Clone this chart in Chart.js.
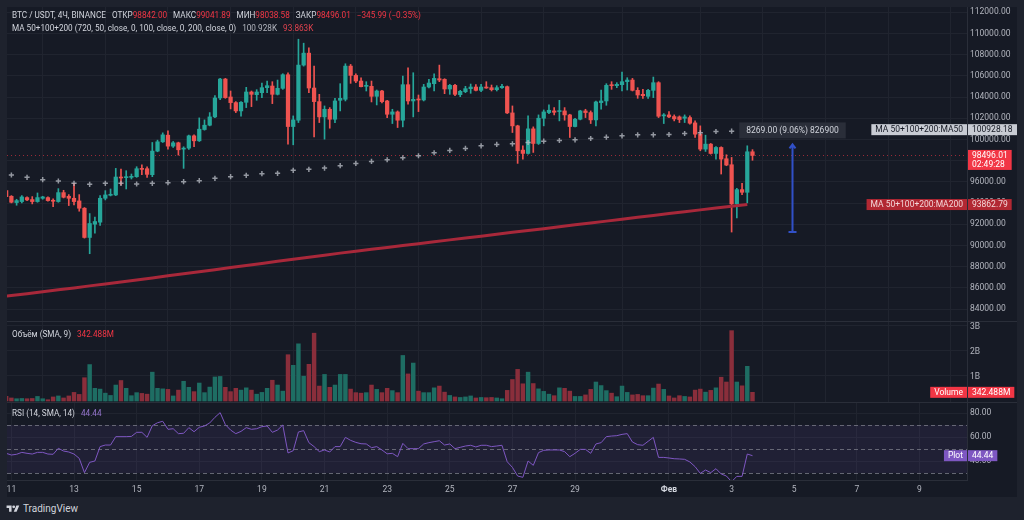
<!DOCTYPE html>
<html lang="ru">
<head>
<meta charset="utf-8">
<title>BTC / USDT, 4Ч, BINANCE</title>
<script src="https://cdn.jsdelivr.net/npm/chart.js@4.4.1/dist/chart.umd.min.js"></script>
<style>
  html, body { margin: 0; padding: 0; }
  body { position: relative; width: 1024px; height: 520px; overflow: hidden; background: #1e222d;
         font-family: Roboto, "Liberation Sans", sans-serif; font-size: 8.5px; color: #d1d4dc; }
  #chart { position: absolute; left: 7px; top: 7px; width: 1010px; height: 490px; background: #161a25; }
  .pane { position: absolute; left: 0; width: 1010px; }
  #pricePane { top: 0; height: 315px; }
  #volPane { top: 315px; height: 80px; }
  #rsiPane { top: 395px; height: 95px; }
  .sep { position: absolute; left: 0; width: 1010px; height: 1px; background: #2a2e39; }
  .legend { position: absolute; left: 5px; display: flex; white-space: pre; font-size: 8.2px; line-height: 11px; z-index: 2; }
  .legend .g { margin-left: 6px; }
  .red { color: #f23645; }
  .ma200 { color: #e0434f; }
  .grey { color: #b2b5be; }
  .purple { color: #9575cd; }
  #brand { position: absolute; left: 6px; top: 503px; display: flex; align-items: center; gap: 3px;
           font-size: 10px; color: #d1d4dc; }
</style>
</head>
<body>
<div id="chart">
  <div class="pane" id="pricePane"><canvas id="price"></canvas></div>
  <div class="pane" id="volPane"><canvas id="volume"></canvas></div>
  <div class="pane" id="rsiPane"><canvas id="rsi"></canvas></div>
  <div class="sep" style="top:314px"></div>
  <div class="sep" style="top:395px"></div>

  <div class="legend" style="top:3px"><span>BTC / USDT, 4Ч, BINANCE</span><span class="g">ОТКР<span class="red" id="lgO"></span></span><span class="g">МАКС<span class="red" id="lgH"></span></span><span class="g">МИН<span class="red" id="lgL"></span></span><span class="g">ЗАКР<span class="red" id="lgC"></span></span><span class="g red" id="lgChg"></span></div>
  <div class="legend" style="top:15.5px"><span>MA 50+100+200 (720, 50, close, 0, 100, close, 0, 200, close, 0)</span><span class="g grey" id="lgMa50"></span><span class="g ma200" id="lgMa200"></span></div>
  <div class="legend" style="top:321.5px"><span>Объём (SMA, 9)</span><span class="g red" id="lgVol"></span></div>
  <div class="legend" style="top:401px"><span>RSI (14, SMA, 14)</span><span class="g purple" id="lgRsi"></span></div>
</div>
<div id="brand">
  <svg width="14" height="10" viewBox="0 0 36 28"><path d="M14 22H7V11H0V4h14v18zM28 22h-8l7.5-18h8L28 22z" fill="#d1d4dc"/><circle cx="20" cy="8" r="4" fill="#d1d4dc"/></svg>
  <span>TradingView</span>
</div>

<script>
// 4h candles, index 0 = 11 Jan 00:00, first candle is 10 Jan 20:00
const FIRST_IDX = -1;
const open = [
  95177, 94644, 94049, 94143, 94519, 94331, 94143, 94456, 94519, 94268, 94143, 94989,
  94644, 94456, 94205, 93516, 90758, 92012, 92200, 94456, 94738, 94769, 96461, 96399,
  96430, 96493, 97276, 97244, 96681, 98905, 99782, 100408, 99374, 99688, 99093, 99187,
  100346, 99876, 100941, 101348, 102132, 103917, 105703, 104011, 103479, 102696, 103510, 104482,
  104231, 104419, 104889, 105045, 104262, 104826, 106111, 101223, 101818, 107019, 108147, 104857,
  103573, 102132, 102852, 101912, 103698, 103792, 106925, 106048, 105515, 105014, 105014, 104074,
  104576, 103636, 102382, 102602, 101818, 105171, 103636, 103792, 103730, 104951, 105265, 105735,
  105672, 104763, 105108, 104231, 104513, 104795, 104951, 104638, 104951, 104889, 104701, 104889,
  104983, 102508, 101286, 98999, 98685, 101004, 99625, 102006, 102539, 102696, 102633, 102696,
  102320, 101223, 101912, 102696, 102539, 101850, 103479, 103636, 105171, 105077, 105171, 105453,
  105609, 104638, 104262, 104074, 104638, 105359, 102226, 102320, 102163, 102132, 102006, 102069,
  101568, 100502, 99093, 99562, 98685, 99249, 98184, 97620, 93923, 95270, 95020, 98842
];
const high = [
  95270, 94707, 94362, 94707, 94582, 94613, 94957, 94644, 94582, 94393, 95364, 95208,
  94801, 95866, 94801, 93579, 93015, 92670, 94707, 95177, 95333, 97276, 97213, 97057,
  96743, 97432, 97620, 97432, 99719, 99939, 100628, 100816, 99813, 99750, 99312, 100408,
  100440, 102038, 101850, 102539, 104137, 105766, 105766, 104576, 103573, 103573, 104920, 104576,
  104701, 105327, 105515, 105453, 105609, 106205, 106299, 102226, 109460, 109087, 108648, 106925,
  104262, 103166, 103009, 103886, 105265, 107145, 107082, 106205, 105829, 105453, 105515, 104670,
  104638, 103698, 102852, 102696, 105985, 106769, 106299, 104199, 105202, 105672, 106205, 107019,
  105735, 105202, 105202, 104638, 105014, 105233, 105171, 105202, 105453, 105139, 105077, 105202,
  105045, 103166, 101348, 99406, 102226, 101192, 102320, 102790, 103260, 103009, 103698, 103009,
  102382, 102006, 102758, 102852, 102696, 103636, 104670, 105265, 105453, 105359, 106361, 105829,
  105766, 104889, 104732, 104732, 105891, 105453, 102445, 102633, 102320, 102226, 102320, 102226,
  101756, 101286, 100408, 99625, 99343, 99312, 98560, 98310, 95396, 95866, 99406, 99041.89
];
const low = [
  94550, 94017, 93798, 94017, 94237, 93923, 94080, 94362, 94174, 93673, 94080, 94487,
  93767, 93829, 93234, 90696, 89224, 91166, 91887, 94299, 94676, 94707, 95709, 95333,
  96273, 96430, 96681, 96430, 96493, 98842, 99719, 99093, 99249, 98529, 97276, 99061,
  99312, 99813, 100878, 101286, 102069, 103761, 103886, 102884, 102539, 102194, 103009, 103103,
  103698, 103949, 104419, 103385, 104199, 104732, 99562, 99500, 101599, 106925, 104419, 100252,
  101599, 100032, 101066, 101599, 102696, 103636, 105296, 105359, 104951, 104576, 103542, 103260,
  103448, 102069, 101505, 101129, 101192, 103322, 102132, 102633, 103636, 104857, 104576, 105453,
  104325, 104262, 104137, 104043, 104419, 104356, 104576, 104513, 104826, 104576, 104576, 104826,
  102445, 100659, 97746, 98153, 98623, 98780, 99531, 101286, 102445, 102320, 101756, 101818,
  100189, 101192, 101850, 102069, 101505, 101286, 102852, 103228, 104732, 104889, 104576, 104670,
  104576, 103886, 103886, 103886, 103949, 102069, 101505, 102069, 101756, 101599, 101599, 101442,
  100189, 98936, 98874, 98623, 98153, 96743, 97526, 91269, 92607, 94801, 94017, 98038.58
];
const close = [
  94613, 94080, 94237, 94582, 94299, 94143, 94519, 94582, 94237, 94174, 94989, 94550,
  94456, 94143, 93516, 90758, 92075, 92263, 94456, 94769, 94832, 96461, 96367, 96493,
  96493, 97244, 97182, 96712, 98905, 99782, 100440, 99374, 99688, 99030, 99187, 100346,
  99876, 100972, 101348, 102132, 103917, 105703, 103949, 103479, 102696, 103510, 104482, 104262,
  104482, 104889, 105077, 104262, 104826, 106111, 101223, 101850, 107019, 108147, 104857, 103573,
  102132, 102852, 101912, 103636, 103886, 106925, 106048, 105515, 104983, 105108, 104074, 104576,
  103573, 102382, 102602, 101818, 105171, 103636, 103792, 103730, 104951, 105327, 105766, 105609,
  104763, 105108, 104262, 104544, 104795, 104951, 104638, 104951, 104857, 104701, 104889, 105014,
  102508, 101286, 98936, 98685, 101004, 99625, 102006, 102602, 102758, 102570, 102696, 102320,
  101223, 101912, 102696, 102539, 101850, 103542, 103636, 105108, 105077, 105202, 105453, 105609,
  104638, 104199, 104137, 104638, 105359, 102194, 102320, 102132, 101944, 101881, 102132, 101536,
  100502, 99093, 99562, 98685, 99249, 98153, 97589, 93923, 95270, 95020, 98842, 98496.01
];
// volume in billions
const volume = [
  0.18, 0.12, 0.09, 0.10, 0.09, 0.10, 0.18, 0.09, 0.05, 0.16, 0.20, 0.12,
  0.20, 0.34, 0.26, 0.92, 1.44, 0.50, 0.47, 0.31, 0.22, 0.63, 0.81, 0.50,
  0.21, 0.33, 0.30, 0.27, 1.14, 0.50, 0.48, 0.46, 0.20, 0.43, 0.78, 0.54,
  0.37, 0.71, 0.33, 0.55, 0.95, 0.97, 0.54, 0.37, 0.50, 0.43, 0.52, 0.43,
  0.27, 0.34, 0.50, 0.82, 0.63, 0.39, 1.83, 1.41, 2.26, 0.98, 1.45, 2.68,
  0.59, 1.05, 0.54, 0.63, 1.05, 1.05, 0.47, 0.33, 0.31, 0.33, 0.63, 0.46,
  0.33, 0.50, 0.41, 0.33, 1.80, 1.07, 1.50, 0.39, 0.33, 0.33, 0.52, 0.59,
  0.35, 0.22, 0.16, 0.14, 0.16, 0.20, 0.12, 0.14, 0.13, 0.14, 0.12, 0.09,
  0.42, 0.85, 1.25, 0.68, 1.14, 0.69, 0.48, 0.38, 0.27, 0.21, 0.52, 0.50,
  0.39, 0.18, 0.18, 0.24, 0.46, 0.75, 0.61, 0.41, 0.31, 0.17, 0.59, 0.34,
  0.24, 0.26, 0.21, 0.21, 0.51, 0.67, 0.46, 0.20, 0.12, 0.21, 0.18, 0.16,
  0.43, 0.47, 0.35, 0.42, 0.52, 0.94, 0.75, 2.78, 0.75, 0.60, 1.37, 0.342488
];
const rsi = [
  46.4, 45.0, 45.6, 47.2, 46.4, 45.8, 47.2, 47.2, 45.8, 45.6, 50.6, 48.3,
  47.5, 45.8, 42.2, 30.3, 38.9, 40.0, 52.0, 53.3, 53.3, 60.3, 60.3, 60.3,
  60.5, 63.9, 63.9, 59.7, 69.4, 71.9, 73.1, 66.4, 66.9, 62.8, 63.1, 67.8,
  64.4, 68.1, 69.2, 71.7, 76.4, 80.3, 70.3, 65.8, 62.8, 64.7, 67.8, 66.4,
  66.9, 68.6, 69.2, 63.9, 65.8, 70.0, 46.7, 48.6, 64.2, 65.3, 55.3, 52.0,
  47.8, 49.2, 47.5, 52.0, 52.0, 59.7, 57.2, 55.5, 54.4, 54.2, 51.1, 52.0,
  49.2, 46.0, 46.4, 43.6, 54.7, 50.3, 50.3, 50.3, 54.2, 55.3, 56.1, 56.9,
  53.3, 54.2, 50.3, 51.4, 52.5, 53.1, 51.7, 53.1, 53.1, 52.0, 52.5, 53.1,
  39.4, 34.7, 27.5, 26.4, 40.0, 36.4, 47.0, 48.9, 49.2, 49.2, 49.2, 47.8,
  43.6, 46.4, 49.7, 49.7, 46.4, 54.2, 55.3, 60.3, 60.8, 61.1, 62.2, 62.8,
  55.8, 53.6, 53.1, 56.4, 59.7, 43.0, 43.0, 42.5, 41.9, 41.7, 41.4, 39.2,
  35.3, 29.7, 32.5, 30.3, 33.6, 29.2, 27.5, 22.8, 27.2, 27.2, 45.8, 44.44
];

// MA is computed on 12h bars: one point every 3 candles, first at index -3
const MA_FIRST_IDX = -3;
const ma50 = [
  96870, 96649, 96430, 96211, 96085, 95866, 95772, 95866, 95866, 95803, 95866,
  95928, 96023, 96117, 96336, 96493, 96618, 96774, 96806, 97088, 97182,
  97307, 97526, 97746, 97933, 98090, 98278, 98466, 98748, 98968, 99155,
  99406, 99531, 99594, 99719, 99845, 99907, 99970, 100095, 100220, 100346,
  100440, 100440, 100471, 100565, 100628, 100753, 100784, 100928.18
];
const ma200 = [
  85100, 85280, 85450, 85630, 85820, 86000, 86190, 86370, 86560, 86750, 86940,
  87140, 87330, 87530, 87720, 87920, 88110, 88310, 88510, 88700, 88900,
  89090, 89280, 89460, 89640, 89810, 89990, 90170, 90350, 90530, 90700,
  90880, 91060, 91240, 91410, 91590, 91770, 91950, 92130, 92300, 92480,
  92660, 92840, 93020, 93190, 93360, 93530, 93700, 93862.79
];

const dayTickIdx = [0, 12, 24, 36, 48, 60, 72, 84, 96, 108, 126, 138, 150, 162, 174];
const dayTickLabels = ['11', '13', '15', '17', '19', '21', '23', '25', '27', '29', 'Фев', '3', '5', '7', '9'];
const priceTicks = [84000, 86000, 88000, 90000, 92000, 94000, 96000, 98000, 100000, 102000, 104000, 106000, 108000, 110000, 112000];
const volumeTicks = [1, 2, 3];
const rsiTicks = [40, 60, 80];
const rsiBands = [70, 50, 30];

const measureX = 149.6, measureLow = 91269, measureHigh = 99538;
const countdown = '02:49:28';

// ---- look ----
const UP = '#26a69a', DOWN = '#ef5350';
const VOL_UP = '#1e6d63', VOL_DOWN = '#8a2e3b';
const GRID = '#20242f', AXIS = '#2a2e39', TEXT = '#b2b5be';
const FONT = 'Roboto, "Liberation Sans", sans-serif';
const TAG_FONT = '8.5px ' + FONT;
const X_MIN = -0.84, X_MAX = 183.1;

Chart.defaults.font.family = FONT;
Chart.defaults.font.size = 8.5;
Chart.defaults.color = TEXT;
Chart.defaults.animation = false;
Chart.defaults.plugins.legend.display = false;
Chart.defaults.plugins.tooltip.enabled = false;

const last = close.length - 1;
const candleIdx = close.map((_, i) => FIRST_IDX + i);
const maIdx = ma50.map((_, k) => MA_FIRST_IDX + 3 * k);
const isUp = close.map((c, i) => c >= open[i]);

// legends
const fmt2 = v => v.toFixed(2);
document.getElementById('lgO').textContent = fmt2(open[last]);
document.getElementById('lgH').textContent = fmt2(high[last]);
document.getElementById('lgL').textContent = fmt2(low[last]);
document.getElementById('lgC').textContent = fmt2(close[last]);
const chg = close[last] - close[last - 1];
document.getElementById('lgChg').textContent =
  (chg < 0 ? '−' : '+') + fmt2(Math.abs(chg)) + ' (' + (chg < 0 ? '−' : '+') + fmt2(Math.abs(chg / close[last - 1] * 100)) + '%)';
document.getElementById('lgMa50').textContent = (ma50[ma50.length - 1] / 1000).toFixed(3) + 'K';
document.getElementById('lgMa200').textContent = (ma200[ma200.length - 1] / 1000).toFixed(3) + 'K';
document.getElementById('lgVol').textContent = (volume[last] * 1000).toFixed(3) + 'M';
document.getElementById('lgRsi').textContent = fmt2(rsi[last]);

function noPad(s) { s.paddingLeft = 0; s.paddingRight = 0; s.paddingTop = 0; s.paddingBottom = 0; }

function xAxis(showLabels) {
  return {
    type: 'linear', min: X_MIN, max: X_MAX, offset: false,
    afterBuildTicks: s => { s.ticks = dayTickIdx.map(v => ({ value: v })); },
    afterFit: s => { noPad(s); if (showLabels) s.height = 17; },
    grid: { color: GRID, drawTicks: false },
    border: { display: showLabels, color: AXIS },
    ticks: {
      display: showLabels, autoSkip: false, maxRotation: 0, padding: 5,
      callback: (v, i) => dayTickLabels[i],
      font: ctx => ({ family: FONT, size: 8.5, weight: dayTickLabels[ctx.index] === 'Фев' ? 'bold' : 'normal' }),
      color: ctx => dayTickLabels[ctx.index] === 'Фев' ? '#d1d4dc' : TEXT
    }
  };
}
function yAxis(min, max, ticks, fmt, labelOffset) {
  return {
    position: 'right', min, max,
    afterBuildTicks: s => { s.ticks = ticks.map(v => ({ value: v })); },
    afterFit: s => { noPad(s); s.width = 50; },
    grid: { color: GRID, drawTicks: false },
    border: { color: AXIS },
    ticks: { padding: 3, labelOffset: labelOffset || 0, callback: fmt }
  };
}
const LAYOUT = { padding: 0, autoPadding: false };

// tag boxes on the right axis
function nameTag(ctx, text, right, y, bg, fg) {
  ctx.font = TAG_FONT;
  const w = ctx.measureText(text).width + 8;
  ctx.fillStyle = bg;
  ctx.fillRect(right - w, y - 5.5, w, 11);
  ctx.fillStyle = fg;
  ctx.textAlign = 'left'; ctx.textBaseline = 'middle';
  ctx.fillText(text, right - w + 4, y + 0.5);
}
function valueTag(ctx, lines, left, y, bg, fg, width) {
  ctx.font = TAG_FONT;
  const w = width || Math.max(...lines.map(t => ctx.measureText(t).width)) + 8;
  const h = 11 + (lines.length - 1) * 9;
  ctx.fillStyle = bg;
  ctx.fillRect(left, y - 5.5, w, h);
  ctx.fillStyle = fg;
  ctx.textAlign = 'left'; ctx.textBaseline = 'middle';
  lines.forEach((t, k) => ctx.fillText(t, left + 4, y + 0.5 + k * 9));
}

const pricePlugin = {
  id: 'priceExtras',
  beforeDatasetsDraw(chart) {
    const { ctx, chartArea: a, scales: { y } } = chart;
    const py = Math.round(y.getPixelForValue(close[last])) + 0.5;
    ctx.save();
    ctx.strokeStyle = 'rgba(242,54,69,0.6)';
    ctx.lineWidth = 1;
    ctx.setLineDash([1, 3]);
    ctx.beginPath(); ctx.moveTo(a.left, py); ctx.lineTo(a.right, py); ctx.stroke();
    ctx.restore();
  },
  afterDatasetsDraw(chart) {
    const { ctx, scales: { x, y } } = chart;
    const mx = Math.round(x.getPixelForValue(measureX)) + 0.5;
    const top = y.getPixelForValue(measureHigh), bot = y.getPixelForValue(measureLow);
    ctx.save();
    ctx.strokeStyle = '#3150c8';
    ctx.lineWidth = 2;
    ctx.beginPath();
    ctx.moveTo(mx, bot); ctx.lineTo(mx, top);
    ctx.moveTo(mx - 4, bot); ctx.lineTo(mx + 4, bot);
    ctx.moveTo(mx - 3, top + 4); ctx.lineTo(mx, top); ctx.lineTo(mx + 3, top + 4);
    ctx.stroke();
    const diff = measureHigh - measureLow;
    const txt = diff.toFixed(2) + ' (' + (diff / measureLow * 100).toFixed(2) + '%) ' + Math.round(diff * 100);
    ctx.font = TAG_FONT;
    const w = ctx.measureText(txt).width + 14;
    ctx.fillStyle = '#2a2e39';
    ctx.fillRect(mx - w / 2, top - 22, w, 16);
    ctx.fillStyle = '#d1d4dc';
    ctx.textAlign = 'center'; ctx.textBaseline = 'middle';
    ctx.fillText(txt, mx, top - 13.5);
    ctx.restore();
  },
  afterDraw(chart) {
    const { ctx, chartArea: a, scales: { y } } = chart;
    ctx.save();
    const m50 = ma50[ma50.length - 1], m200 = ma200[ma200.length - 1];
    const y50 = y.getPixelForValue(m50), y200 = y.getPixelForValue(m200), yc = y.getPixelForValue(close[last]);
    nameTag(ctx, 'MA 50+100+200:MA50', a.right, y50, '#c8cbd3', '#131722');
    valueTag(ctx, [fmt2(m50)], a.right + 1, y50, '#c8cbd3', '#131722', 49);
    valueTag(ctx, [fmt2(close[last]), countdown], a.right + 1, yc, '#f23645', '#ffffff');
    nameTag(ctx, 'MA 50+100+200:MA200', a.right, y200, '#b22833', '#f3d6d8');
    valueTag(ctx, [fmt2(m200)], a.right + 1, y200, '#b22833', '#f3d6d8');
    ctx.restore();
  }
};

new Chart(document.getElementById('price'), {
  type: 'bar',
  data: {
    datasets: [
      {
        type: 'line', label: 'MA50', data: maIdx.map((x, k) => ({ x, y: ma50[k] })),
        showLine: false, pointStyle: 'cross', pointRadius: 2.6, pointBorderWidth: 1.5,
        borderColor: 'rgba(190,193,202,0.75)'
      },
      {
        type: 'line', label: 'MA200', data: maIdx.map((x, k) => ({ x, y: ma200[k] })),
        borderColor: '#a8283a', borderWidth: 3, pointRadius: 0, tension: 0
      },
      {
        label: 'body', data: candleIdx.map((x, i) => ({ x, y: [open[i], close[i]] })),
        backgroundColor: isUp.map(u => u ? UP : DOWN), barThickness: 3.6, minBarLength: 1, grouped: false
      },
      {
        label: 'wick', data: candleIdx.map((x, i) => ({ x, y: [low[i], high[i]] })),
        backgroundColor: isUp.map(u => u ? UP : DOWN), barThickness: 1, grouped: false
      }
    ]
  },
  options: {
    responsive: true, maintainAspectRatio: false,
    layout: LAYOUT,
    scales: {
      x: xAxis(false),
      y: yAxis(82783, 112500, priceTicks, v => v.toFixed(2))
    }
  },
  plugins: [pricePlugin]
});

const volumePlugin = {
  id: 'volumeExtras',
  afterDraw(chart) {
    const { ctx, chartArea: a, scales: { y } } = chart;
    const yv = y.getPixelForValue(volume[last]);
    ctx.save();
    nameTag(ctx, 'Volume', a.right, yv, '#f23645', '#ffffff');
    valueTag(ctx, [(volume[last] * 1000).toFixed(3) + 'M'], a.right + 1, yv, '#f23645', '#ffffff');
    ctx.restore();
  }
};

new Chart(document.getElementById('volume'), {
  type: 'bar',
  data: {
    datasets: [{
      label: 'Volume', data: candleIdx.map((x, i) => ({ x, y: volume[i] })),
      backgroundColor: isUp.map(u => u ? VOL_UP : VOL_DOWN), barThickness: 3.8, grouped: false
    }]
  },
  options: {
    responsive: true, maintainAspectRatio: false,
    layout: LAYOUT,
    scales: {
      x: xAxis(false),
      y: yAxis(-0.0395, 3.1225, volumeTicks, v => v + 'B', 1.5)
    }
  },
  plugins: [volumePlugin]
});

const rsiPlugin = {
  id: 'rsiExtras',
  beforeDatasetsDraw(chart) {
    const { ctx, chartArea: a, scales: { y } } = chart;
    ctx.save();
    ctx.fillStyle = 'rgba(126,87,194,0.1)';
    const y70 = y.getPixelForValue(rsiBands[0]), y30 = y.getPixelForValue(rsiBands[2]);
    ctx.fillRect(a.left, y70, a.right - a.left, y30 - y70);
    ctx.strokeStyle = 'rgba(120,123,134,0.8)';
    ctx.lineWidth = 1;
    ctx.setLineDash([4, 3]);
    rsiBands.forEach(v => {
      const py = Math.round(y.getPixelForValue(v)) + 0.5;
      ctx.beginPath(); ctx.moveTo(a.left, py); ctx.lineTo(a.right, py); ctx.stroke();
    });
    ctx.restore();
  },
  afterDraw(chart) {
    const { ctx, chartArea: a, scales: { y } } = chart;
    const yr = y.getPixelForValue(rsi[last]);
    ctx.save();
    nameTag(ctx, 'Plot', a.right, yr, '#7e57c2', '#ffffff');
    valueTag(ctx, [fmt2(rsi[last])], a.right + 1, yr, '#7e57c2', '#ffffff');
    ctx.restore();
  }
};

new Chart(document.getElementById('rsi'), {
  type: 'line',
  data: {
    datasets: [{
      label: 'RSI', data: candleIdx.map((x, i) => ({ x, y: rsi[i] })),
      borderColor: '#7e57c2', borderWidth: 1, pointRadius: 0, tension: 0
    }]
  },
  options: {
    responsive: true, maintainAspectRatio: false,
    layout: LAYOUT,
    scales: {
      x: xAxis(true),
      y: yAxis(24.17, 89.17, rsiTicks, v => v.toFixed(2))
    }
  },
  plugins: [rsiPlugin]
});
</script>
</body>
</html>
